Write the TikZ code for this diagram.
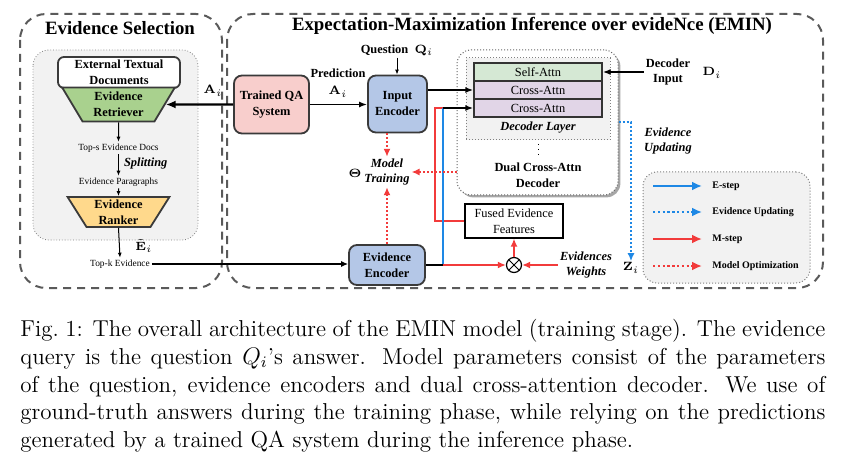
\documentclass[tikz,border=0pt]{standalone}
\usepackage[no-math]{fontspec}
\usepackage{amsmath}
\usetikzlibrary{arrows.meta,shapes.geometric,shadows,calc}
\newfontfamily\tnr{Liberation Serif}
\definecolor{boxgray}{HTML}{3A3A3A}
\definecolor{panelgray}{HTML}{5A5A5A}
\definecolor{qapink}{HTML}{F8CECC}
\definecolor{encblue}{HTML}{B4C7E7}
\definecolor{rgreen}{HTML}{A9D18E}
\definecolor{rorange}{HTML}{FFD98C}
\definecolor{sgreen}{HTML}{D5E8D4}
\definecolor{clav}{HTML}{E1D5E7}
\definecolor{lightpanel}{HTML}{F2F2F2}
\definecolor{eblue}{HTML}{1E88E5}
\definecolor{mred}{HTML}{F23B3B}
\begin{document}
\begin{tikzpicture}[x=0.5pt,y=-0.5pt,
  panel/.style={draw=panelgray,line width=1pt,dash pattern=on 4pt off 3pt,rounded corners=13pt},
  graypanel/.style={draw=gray,fill=lightpanel,line width=0.4pt,densely dotted,rounded corners=8pt},
  title/.style={font=\tnr\bfseries\fontsize{9.4}{11}\selectfont,inner sep=0pt},
  box/.style={draw=boxgray,line width=0.9pt,rounded corners=4pt,align=center,
    font=\tnr\bfseries\fontsize{6.2}{8}\selectfont,inner sep=1pt},
  trap/.style={trapezium,trapezium angle=60,shape border rotate=180,trapezium stretches=true,
    draw=boxgray,line width=0.9pt,align=center,font=\tnr\bfseries\fontsize{6.2}{8}\selectfont,inner sep=0pt},
  small/.style={font=\tnr\fontsize{4.7}{5.6}\selectfont,inner sep=0.8pt},
  lbl/.style={font=\tnr\bfseries\fontsize{6.2}{7.8}\selectfont,align=center,inner sep=0.8pt},
  lbli/.style={font=\tnr\bfseries\itshape\fontsize{6.2}{7.6}\selectfont,align=center,inner sep=0.8pt},
  mathlbl/.style={font=\fontsize{6.5}{7}\selectfont,inner sep=0.5pt},
  att/.style={draw=black!80,line width=0.7pt,minimum width=64pt,minimum height=9pt,inner sep=0pt,
    font=\tnr\fontsize{6.2}{7}\selectfont},
  legtext/.style={font=\tnr\bfseries\fontsize{5}{6}\selectfont,anchor=west,inner sep=0pt},
  captxt/.style={font=\fontsize{11.5}{13.9}\selectfont,inner sep=0pt,anchor=base west},
  arr/.style={-{Latex[length=4pt,width=3pt]},line width=0.9pt},
  bigarr/.style={-{Latex[length=5pt,width=4pt]},line width=1.2pt},
  sarr/.style={-{Latex[length=2.5pt,width=2pt]},line width=0.5pt},
  estep/.style={draw=eblue,line width=0.9pt},
  mstep/.style={draw=mred,line width=0.9pt},
  mopt/.style={draw=mred,line width=1pt,dash pattern=on 1pt off 1pt,
    -{Latex[length=4pt,width=3.5pt]},color=mred},
  evupd/.style={draw=eblue,line width=1pt,dash pattern=on 1pt off 1pt,
    -{Latex[length=4pt,width=3.5pt]},color=eblue},
  legarr/.style={-{Latex[length=5pt,width=4.5pt]},line width=1.2pt}
]
\useasboundingbox (0,0) rectangle (852,476);

% ---------------- outer panels
\draw[panel] (20,14) rectangle (222,288);
\draw[panel] (227,14) rectangle (823,288);
\node[title] (tsel) at (120,28) {Evidence Selection};
\node[title] (temin) at (532,26) {Expectation-Maximization Inference over evideNce (EMIN)};

% ---------------- evidence selection
\draw[graypanel] (33,50) rectangle (198,240);
\node[box,fill=white,minimum width=61pt,minimum height=15.5pt,rounded corners=3pt] (docs) at (119,72.5) {External Textual\\Documents};
\node[trap,fill=rgreen,minimum width=56.5pt,minimum height=17pt] (retr) at (118.5,104.5) {Evidence\\Retriever};
\node[small] (tops) at (118.5,148) {Top-s Evidence Docs};
\node[small] (paras) at (118.5,182) {Evidence Paragraphs};
\node[trap,fill=rorange,minimum width=51pt,minimum height=15pt] (rank) at (118.5,212) {Evidence\\Ranker};
\node[small] (topk) at (120,264) {Top-k Evidence};
\node[mathlbl] (etil) at (144,246) {$\tilde{\mathbf{E}}_i$};
\node[lbli,anchor=west] (split) at (122,164) {Splitting};
\draw[sarr] (retr.south) -- (tops.north);
\draw[sarr] (tops.south) -- (paras.north);
\draw[sarr] (paras.south) -- (rank.north);
\draw[sarr] (rank.south) -- (topk.north);

% ---------------- EMIN
\node[box,fill=qapink,minimum width=37.5pt,minimum height=29pt] (qa) at (271.5,104.5) {Trained QA\\System};
\node[box,fill=encblue,minimum width=29.5pt,minimum height=28.5pt] (inenc) at (397.5,104) {Input\\Encoder};
\node[box,fill=encblue,minimum width=38pt,minimum height=20pt] (evenc) at (387,265) {Evidence\\Encoder};
\draw[bigarr] (qa.west) -- (retr.east);
\node[mathlbl] (ai1) at (213,91) {$\mathbf{A}_i$};
\node[lbl] (pred) at (338,73) {Prediction};
\node[mathlbl] (ai2) at (338,92) {$\mathbf{A}_i$};
\draw[arr] (qa.east) -- (qa.east -| inenc.west);
\node[lbl] (q) at (397,50) {Question\ \ $\mathbf{Q}_i$};
\draw[sarr] (q.south) -- (q.south |- inenc.north);
\draw[-{Latex[length=3.5pt,width=3pt]},line width=0.6pt] (topk.east) -- (topk.east -| evenc.west);

% decoder
\node[draw=gray!80!black,densely dotted,line width=0.5pt,fill=white,rounded corners=7pt,
  minimum width=80.5pt,minimum height=72.5pt,
  drop shadow={shadow xshift=1.2pt,shadow yshift=-1.2pt,fill=gray!70,opacity=1}] (dec) at (537.5,122.5) {};
\node[draw=gray,densely dotted,line width=0.5pt,fill=lightpanel,minimum width=72pt,minimum height=41pt] (layer) at (538,99) {};
\node[att,fill=sgreen] (sa) at (538,72) {Self-Attn};
\node[att,fill=clav] (ca1) at (538,90) {Cross-Attn};
\node[att,fill=clav] (ca2) at (538,108) {Cross-Attn};
\node[lbli] (dl) at (538,128) {Decoder Layer};
\coordinate (vd1) at (538,144);
\coordinate (vd2) at (538,157);
\draw[dotted,line width=0.5pt] (vd1) -- (vd2);
\node[lbl] (dtext) at (538,175) {Dual Cross-Attn\\Decoder};

\node[lbl] (din) at (668,72) {Decoder\\Input};
\node[mathlbl] (di) at (712,73) {$\mathbf{D}_i$};
\draw[arr] (din.west) -- (sa.east);
\draw[arr] (ca1 -| inenc.east) -- (ca1.west);

% fused evidence
\node[draw=black,line width=0.6pt,align=center,font=\tnr\fontsize{6.2}{8}\selectfont,
  minimum width=49pt,minimum height=17pt,inner sep=0.5pt] (fused) at (514,221) {Fused Evidence\\Features};
\node[circle,draw=black,line width=0.6pt,fill=white,minimum size=7.5pt,inner sep=0pt,
  path picture={\draw[line width=0.5pt] (path picture bounding box.north west)--(path picture bounding box.south east)
  (path picture bounding box.north east)--(path picture bounding box.south west);}] (mul) at (514,265) {};
\node[lbli] (ew) at (586,265) {Evidences\\Weights};
\coordinate (J) at (443,265);
\coordinate (K) at (443,108);
\coordinate (R) at (435,108);
\draw[mstep] (fused.west) -| (R) -- (K);
\draw[estep] (J) -- (K);
\draw[line width=0.9pt] (evenc.east) -- (J);
\draw[arr] (K) -- (ca2.west);
\draw[mstep,-{Latex[length=4pt,width=3.5pt]},color=mred] (J) -- (mul.west);
\draw[mstep,-{Latex[length=4pt,width=3.5pt]},color=mred] (mul.north) -- (fused.south);
\draw[mstep,-{Latex[length=4pt,width=3.5pt]},color=mred] (ew.west) -- (mul.east);

% model training
\node[lbli] (mt) at (387,172) {Model\\Training};
\node[mathlbl] (theta) at (355,173) {$\mathbf{\Theta}$};
\draw[mopt] (inenc.south -| mt) -- (mt.north);
\draw[mopt] (evenc.north) -- (mt.south);
\draw[mopt] (dec.west |- mt) -- (mt.east);

% evidence updating
\node[mathlbl] (z) at (631,268) {$\mathbf{Z}_i$};
\draw[evupd] (dec.east) -| (z.north);
\node[lbli] (eu) at (668,141) {Evidence\\Updating};

% legend
\node[draw=gray,densely dotted,line width=0.5pt,fill=lightpanel,rounded corners=7pt,
  minimum width=83.5pt,minimum height=55.5pt] (leg) at (726.5,227.5) {};
\coordinate (l1a) at (653,186); \coordinate (l1b) at (702,186);
\coordinate (l2a) at (653,212); \coordinate (l2b) at (702,212);
\coordinate (l3a) at (653,239); \coordinate (l3b) at (702,239);
\coordinate (l4a) at (653,266); \coordinate (l4b) at (702,266);
\draw[legarr,draw=eblue,color=eblue] (l1a) -- (l1b);
\draw[legarr,draw=eblue,color=eblue,dash pattern=on 1.2pt off 1.2pt] (l2a) -- (l2b);
\draw[legarr,draw=mred,color=mred] (l3a) -- (l3b);
\draw[legarr,draw=mred,color=mred,dash pattern=on 1.2pt off 1.2pt] (l4a) -- (l4b);
\node[legtext] (t1) at (712,186) {E-step};
\node[legtext] (t2) at (712,212) {Evidence Updating};
\node[legtext] (t3) at (712,239) {M-step};
\node[legtext] (t4) at (712,266) {Model Optimization};

% ---------------- caption
\node[captxt] (c1) at (20,336) {\makebox[402.5pt][s]{Fig.~1: The overall architecture of the EMIN model (training stage). The evidence}};
\node[captxt] (c2) at (20,364) {\makebox[402.5pt][s]{query is the question $Q_i$'s answer. Model parameters consist of the parameters}};
\node[captxt] (c3) at (20,392) {\makebox[402.5pt][s]{of the question, evidence encoders and dual cross-attention decoder. We use of}};
\node[captxt] (c4) at (20,419.5) {\makebox[402.5pt][s]{ground-truth answers during the training phase, while relying on the predictions}};
\node[captxt] (c5) at (20,447) {generated by a trained QA system during the inference phase.};
\end{tikzpicture}
\end{document}
